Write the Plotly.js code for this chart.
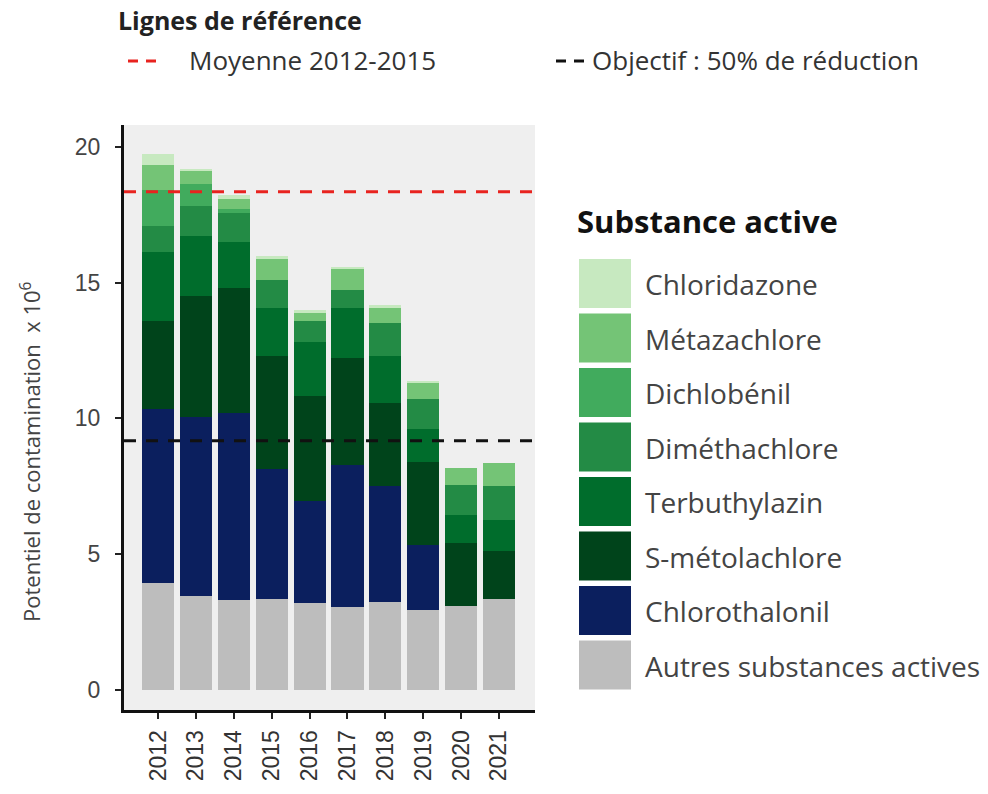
<!DOCTYPE html>
<html>
<head>
<meta charset="utf-8">
<script src="https://cdn.plot.ly/plotly-3.0.1.min.js"></script>
<style>html,body{margin:0;padding:0;background:#fff;}#chart{width:988px;height:794px;}</style>
</head>
<body>
<div id="chart"></div>
<script>
// ---- Data ----
var years = ['2012','2013','2014','2015','2016','2017','2018','2019','2020','2021'];
var autres         = [3.93, 3.46, 3.31, 3.35, 3.19, 3.07, 3.25, 2.95, 3.09, 3.35];
var chlorothalonil = [6.42, 6.58, 6.88, 4.78, 3.75, 5.22, 4.26, 2.39, 0.00, 0.00];
var smetolachlore  = [3.24, 4.48, 4.60, 4.15, 3.89, 3.93, 3.07, 3.07, 2.31, 1.77];
var terbuthylazin  = [2.55, 2.21, 1.72, 1.78, 1.98, 1.84, 1.70, 1.19, 1.05, 1.12];
var dimethachlore  = [0.95, 1.10, 1.05, 1.04, 0.78, 0.65, 1.23, 1.11, 1.10, 1.25];
var dichlobenil    = [1.33, 0.80, 0.14, 0.00, 0.00, 0.00, 0.00, 0.00, 0.00, 0.00];
var metazachlore   = [0.92, 0.46, 0.37, 0.76, 0.30, 0.78, 0.57, 0.60, 0.62, 0.86];
var chloridazone   = [0.39, 0.09, 0.15, 0.13, 0.10, 0.10, 0.10, 0.05, 0.00, 0.00];

var seriesNames = ['Autres substances actives','Chlorothalonil','S-métolachlore','Terbuthylazin',
                   'Diméthachlore','Dichlobénil','Métazachlore','Chloridazone'];
var seriesValues = [autres, chlorothalonil, smetolachlore, terbuthylazin,
                    dimethachlore, dichlobenil, metazachlore, chloridazone];
var seriesColors = ['#bdbdbd','#0b1f5e','#00441b','#006d2c','#238b45','#41ab5d','#74c476','#c7e9c0'];

var refValues = [18.34, 9.17];
var refColors = ['#e8231f', '#111111'];
var refLabels = ['Moyenne 2012-2015', 'Objectif : 50% de réduction'];

var yTitle = 'Potentiel de contamination  x 10<sup>6</sup>';

// ---- Geometry helpers (pixel -> paper) ----
var L = 124, R = 535, T = 125, B = 710, W = 988, H = 794;
function px(x){ return (x - L) / (R - L); }
function py(y){ return (B - y) / (B - T); }

var traces = seriesNames.map(function(n, i){
  return {
    type: 'bar', name: n, x: years, y: seriesValues[i],
    marker: {color: seriesColors[i], line: {width: 0}},
    showlegend: false, hoverinfo: 'x+y+name'
  };
});

var shapes = [];
var annotations = [];

// reference lines in the plot
refValues.forEach(function(v, i){
  shapes.push({type:'line', xref:'paper', yref:'y', x0:0, x1:1, y0:v, y1:v,
    line:{color:refColors[i], width:3, dash:'12px,10px'}});
});

// y axis title (placed as rotated annotation)
annotations.push({xref:'paper', yref:'paper', x:px(30), y:py(452), xanchor:'center', yanchor:'middle',
  text:yTitle, textangle:-90, showarrow:false,
  font:{family:'Open Sans', size:22, color:'#444'}});

// top legend for reference lines
annotations.push({xref:'paper', yref:'paper', x:px(116), y:py(20), xanchor:'left', yanchor:'middle',
  text:'<b>Lignes de référence</b>', showarrow:false,
  font:{family:'Open Sans', size:25, color:'#222'}});
var refLegX = [[128,162,187],[556,590,590]];
refLabels.forEach(function(t, i){
  shapes.push({type:'line', xref:'paper', yref:'paper', x0:px(refLegX[i][0]), x1:px(refLegX[i][1]),
    y0:py(61), y1:py(61), line:{color:refColors[i], width:3, dash:'10px,8px'}});
  annotations.push({xref:'paper', yref:'paper', x:px(refLegX[i][2]), y:py(60),
    xanchor:'left', yanchor:'middle', text:t, showarrow:false,
    font:{family:'Open Sans', size:26, color:'#333'}});
});

// substance legend
annotations.push({xref:'paper', yref:'paper', x:px(575), y:py(221), xanchor:'left', yanchor:'middle',
  text:'<b>Substance active</b>', showarrow:false,
  font:{family:'Open Sans', size:31, color:'#111'}});
var legendOrder = seriesNames.slice().reverse();
var legendColors = seriesColors.slice().reverse();
legendOrder.forEach(function(n, i){
  var top = 259 + i * 54.5;
  shapes.push({type:'rect', xref:'paper', yref:'paper', x0:px(579), x1:px(631),
    y0:py(top), y1:py(top + 49), fillcolor:legendColors[i], line:{width:0}});
  annotations.push({xref:'paper', yref:'paper', x:px(643), y:py(top + 25), xanchor:'left', yanchor:'middle',
    text:n, showarrow:false, font:{family:'Open Sans', size:28, color:'#444'}});
});

var layout = {
  width: W, height: H,
  margin: {l: L, r: W - R, t: T, b: H - B, pad: 0},
  paper_bgcolor: '#ffffff', plot_bgcolor: '#efefef',
  barmode: 'stack', bargap: 0.15,
  showlegend: false,
  xaxis: {
    type: 'category', range: [-0.9, 9.95], showgrid: false, zeroline: false,
    showline: true, linecolor: '#111', linewidth: 3, mirror: false,
    ticks: 'outside', ticklen: 6, tickwidth: 2, tickcolor: '#222',
    tickangle: -90, ticklabelstandoff: 2,
    tickfont: {family: 'Liberation Sans', size: 23, color: '#333'}
  },
  yaxis: {
    range: [-0.74, 20.8], showgrid: false, zeroline: false,
    showline: true, linecolor: '#111', linewidth: 3,
    ticks: 'outside', ticklen: 6, tickwidth: 2, tickcolor: '#222',
    tickvals: [0,5,10,15,20], ticklabelstandoff: 10,
    tickfont: {family: 'Liberation Sans', size: 23, color: '#444'}
  },
  shapes: shapes,
  annotations: annotations
};

Plotly.newPlot('chart', traces, layout, {displayModeBar: false, staticPlot: true});
</script>
</body>
</html>
